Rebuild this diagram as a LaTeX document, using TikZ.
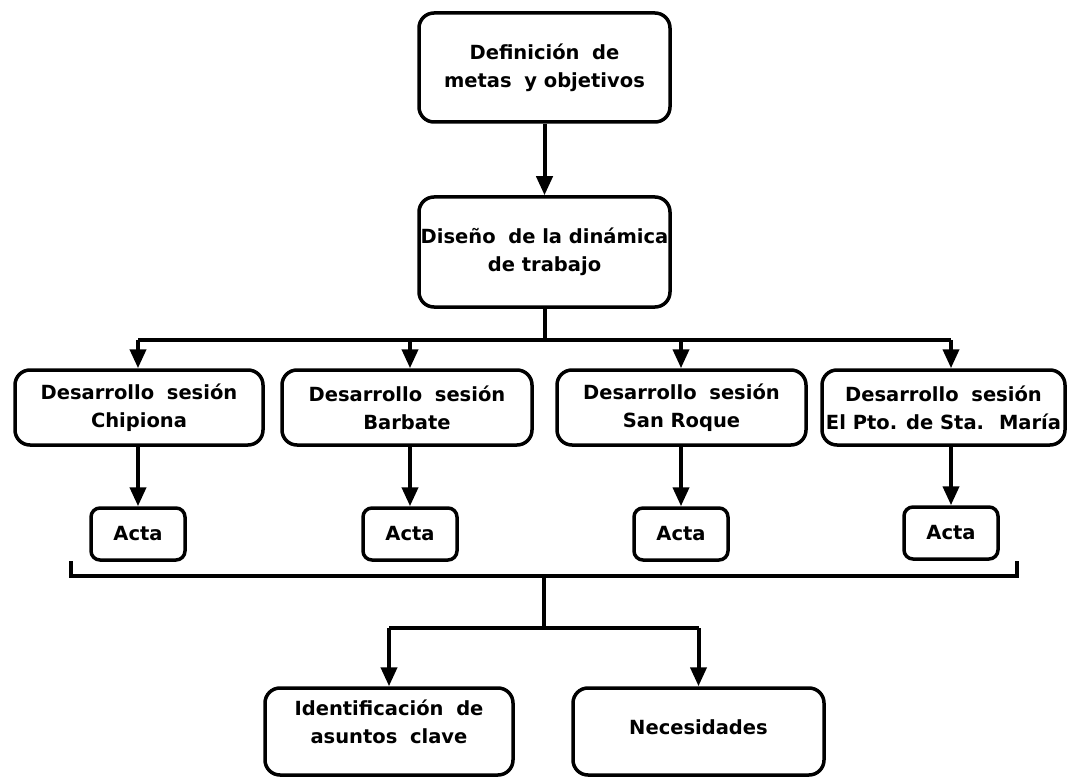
\documentclass[tikz,border=0pt]{standalone}
\usepackage{fontspec}
\setmainfont{DejaVu Sans}
\usetikzlibrary{arrows.meta}
\newcommand\esp{\hspace{0.3em}}
\begin{document}
\begin{tikzpicture}[x=1pt,y=-1pt,
    caja/.style={draw,line width=3.5pt,rounded corners=15pt,align=center,inner sep=0pt,
        font=\bfseries\fontsize{19.5}{28}\selectfont},
    sesion/.style={caja,minimum height=75pt},
    acta/.style={caja,rounded corners=9pt,minimum width=94pt,minimum height=52pt},
    flecha/.style={line width=4pt,-{Triangle[width=16pt,length=19pt]}},
    linea/.style={line width=4pt}]
    \useasboundingbox (0,0) rectangle (1068,778);
    % arriba
    \node[caja,minimum width=251pt,minimum height=109pt] (metas) at (544.5,67.5) {Definición\esp{} de\\metas\esp{} y objetivos\\[-24pt]\mbox{}};
    \node[caja,minimum width=251pt,minimum height=110pt] (dinamica) at (544.5,252) {Diseño\esp{} de la dinámica\\de trabajo};
    \draw[flecha] (metas) -- (dinamica);
    % sesiones
    \node[sesion,minimum width=248pt] (chipiona) at (139,407.5) {Desarrollo\esp{} sesión\\Chipiona};
    \node[sesion,minimum width=250pt] (barbate) at (407,407.5) {Desarrollo\esp{} sesión\\Barbate};
    \node[sesion,minimum width=249pt] (roque) at (681.5,407.5) {Desarrollo\esp{} sesión\\San Roque};
    \node[sesion,minimum width=243pt] (maria) at (943.5,407.5) {Desarrollo\esp{} sesión\\El Pto. de Sta.\esp{} María};
    \node[acta] (acta1) at (138,534) {Acta};
    \node[acta] (acta2) at (410,534) {Acta};
    \node[acta] (acta3) at (681,534) {Acta};
    \node[acta] (acta4) at (951,533) {Acta};
    \draw[linea] (dinamica.south) -- ++(0,31) coordinate (rama);
    \draw[linea] (rama -| acta1) -- (rama -| acta4);
    \foreach \s/\a in {chipiona/acta1,barbate/acta2,roque/acta3,maria/acta4} {
        \draw[flecha] (rama -| \a) -- (\s.north -| \a);
        \draw[flecha] (\s.south -| \a) -- (\a.north);
    }
    % abajo
    \node[caja,minimum width=248pt,minimum height=87pt] (clave) at (389,731.5) {Identificación\esp{} de\\asuntos\esp{} clave\\[-8pt]\mbox{}};
    \node[caja,minimum width=251pt,minimum height=87pt] (necesidades) at (698.5,731.5) {Necesidades\\[-20pt]\mbox{}};
    \coordinate (llave) at (544,576);
    \draw[linea] (71,561) |- (llave) -| (1017,561);
    \draw[linea] (llave) -- ++(0,52) coordinate (rama2);
    \draw[linea] (rama2 -| clave) -- (rama2 -| necesidades);
    \draw[flecha] (rama2 -| clave) -- (clave.north);
    \draw[flecha] (rama2 -| necesidades) -- (necesidades.north);
\end{tikzpicture}
\end{document}
